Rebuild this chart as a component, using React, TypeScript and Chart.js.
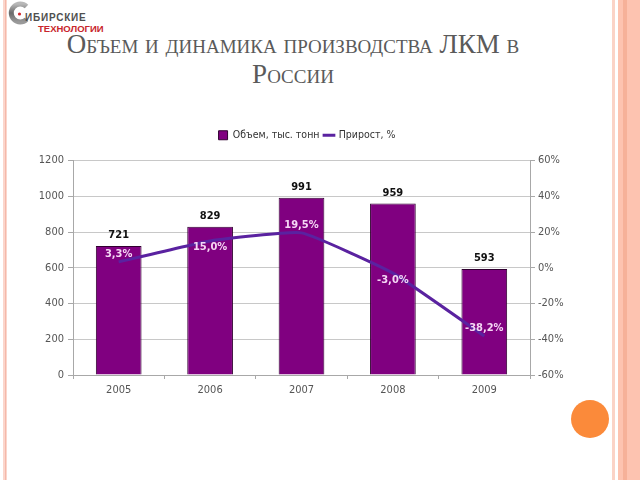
import React, { useEffect, useRef } from "react";
import { Chart, registerables } from "chart.js";

Chart.register(...registerables);

const years = ["2005", "2006", "2007", "2008", "2009"];
const volume = [721, 829, 991, 959, 593];
const growth = [3.3, 15.0, 19.5, -3.0, -38.2];
const volumeLabel = "Объем, тыс. тонн";
const growthLabel = "Прирост, %";
const titleLine1 = "Объем и динамика производства ЛКМ в";
const titleLine2 = "России";

const NARROW = '"Liberation Sans Narrow", "Arial Narrow", "DejaVu Sans Condensed", "Liberation Sans", sans-serif';
const BAR_COLOR = "#800080";
const LINE_COLOR = "#5a22a0";
const GRID = "#c8c8c8";
const AXIS = "#a8a8a8";
const TICK_TEXT = "#555555";

const growthShift = [-8, 6, -8, 7, -8];

const labelsPlugin = {
  id: "valueLabels",
  afterInit(chart: any) {
    const legend = chart.legend;
    if (legend && !legend.__patched) {
      const fit = legend.fit;
      legend.fit = function () {
        fit.call(this);
        this.height += 10;
      };
      legend.__patched = true;
    }
  },
  afterDatasetsDraw(chart: any) {
    const ctx = chart.ctx;
    ctx.save();
    const barMeta = chart.getDatasetMeta(0);
    ctx.font = `bold 11px ${NARROW}`;
    ctx.fillStyle = "#111111";
    ctx.textAlign = "center";
    ctx.textBaseline = "bottom";
    barMeta.data.forEach((el: any, i: number) => {
      ctx.fillText(String(volume[i]), el.x, el.y - 5);
    });
    const lineMeta = chart.getDatasetMeta(1);
    ctx.fillStyle = "#f4d6f4";
    ctx.textBaseline = "middle";
    lineMeta.data.forEach((el: any, i: number) => {
      const txt = growth[i].toFixed(1).replace(".", ",") + "%";
      ctx.fillText(txt, el.x, el.y + growthShift[i]);
    });
    ctx.restore();
  },
};

function ChartBox() {
  const ref = useRef<HTMLCanvasElement | null>(null);
  useEffect(() => {
    if (!ref.current) return;
    const chart = new Chart(ref.current, {
      type: "bar",
      data: {
        labels: years,
        datasets: [
          {
            type: "bar",
            label: volumeLabel,
            data: volume,
            backgroundColor: BAR_COLOR,
            borderColor: "#300030",
            borderWidth: 1,
            categoryPercentage: 1,
            barPercentage: 0.5,
            yAxisID: "y",
            order: 2,
            pointStyle: "rect",
          } as any,
          {
            type: "line",
            label: growthLabel,
            data: growth,
            borderColor: LINE_COLOR,
            backgroundColor: LINE_COLOR,
            borderWidth: 3,
            pointRadius: 0,
            tension: 0.12,
            yAxisID: "y1",
            order: 1,
            pointStyle: "line",
          } as any,
        ],
      },
      options: {
        animation: false,
        responsive: false,
        maintainAspectRatio: false,
        layout: { padding: { top: 7, left: 0, right: 0, bottom: 0 } },
        plugins: {
          tooltip: { enabled: false },
          legend: {
            position: "top",
            labels: {
              usePointStyle: true,
              boxWidth: 9,
              boxHeight: 9,
              padding: 5,
              color: "#333333",
              font: { family: NARROW, size: 10.5 },
              sort: (a: any, b: any) => a.datasetIndex - b.datasetIndex,
            },
          },
        },
        scales: {
          x: {
            offset: true,
            grid: {
              offset: true,
              drawOnChartArea: false,
              drawTicks: true,
              tickLength: 4,
              color: AXIS,
            },
            border: { color: AXIS },
            ticks: { color: TICK_TEXT, font: { family: NARROW, size: 11 }, padding: 5 },
            afterFit: (s: any) => {
              s.height = 33;
            },
          },
          y: {
            position: "left",
            min: 0,
            max: 1200,
            ticks: {
              stepSize: 200,
              color: TICK_TEXT,
              font: { family: NARROW, size: 11 },
              padding: 4,
              callback: (v: any) => String(v),
            },
            grid: { color: GRID, tickLength: 5, tickColor: AXIS },
            border: { color: AXIS },
            afterFit: (s: any) => {
              s.width = 43;
            },
          },
          y1: {
            position: "right",
            min: -60,
            max: 60,
            ticks: {
              stepSize: 20,
              color: TICK_TEXT,
              font: { family: NARROW, size: 11 },
              padding: 3,
              callback: (v: any) => `${v}%`,
            },
            grid: { drawOnChartArea: false, tickLength: 5, color: AXIS },
            border: { color: AXIS },
            afterFit: (s: any) => {
              s.width = 54;
            },
          },
        },
      } as any,
      plugins: [labelsPlugin],
    });
    return () => chart.destroy();
  }, []);
  return (
    <canvas
      ref={ref}
      width={554}
      height={290}
      style={{ position: "absolute", left: 30, top: 118, width: 554, height: 290 }}
    />
  );
}

export default function App() {
  return (
    <div
      style={{
        position: "fixed",
        left: 0,
        top: 0,
        width: 640,
        height: 480,
        background: "#ffffff",
        overflow: "hidden",
      }}
    >
      {/* slide frame decorations */}
      <div style={{ position: "absolute", left: 3, top: 0, width: 4, height: 480, background: "#fbd6cc" }} />
      <div style={{ position: "absolute", left: 4.5, top: 0, width: 1.2, height: 480, background: "#f4b8aa" }} />
      <div style={{ position: "absolute", left: 612, top: 0, width: 3, height: 480, background: "#fbd3c6" }} />
      <div style={{ position: "absolute", left: 618, top: 0, width: 22, height: 480, background: "#fdc3b0" }} />
      <div style={{ position: "absolute", left: 623, top: 0, width: 4, height: 480, background: "#f6b199" }} />
      <div
        style={{
          position: "absolute",
          left: 571,
          top: 400,
          width: 38,
          height: 38,
          borderRadius: "50%",
          background: "#fb8a3a",
        }}
      />
      {/* logo */}
      <svg
        width={34}
        height={30}
        style={{ position: "absolute", left: 4, top: 0 }}
      >
        <defs>
          <linearGradient id="lg" x1="0" y1="0" x2="0" y2="1">
            <stop offset="0" stopColor="#b8b8b8" />
            <stop offset="0.5" stopColor="#6a6a6a" />
            <stop offset="1" stopColor="#9a9a9a" />
          </linearGradient>
        </defs>
        <path
          d="M 22.5 6.5 A 9 9 0 1 0 22.5 19.5"
          fill="none"
          stroke="url(#lg)"
          strokeWidth={5}
        />
        <circle cx={15.5} cy={14} r={1.6} fill="#d0282e" />
      </svg>
      <span
        style={{
          position: "absolute",
          left: 25,
          top: 12.7,
          fontFamily: '"Liberation Sans", Arial, sans-serif',
          fontWeight: "bold",
          fontSize: 10,
          lineHeight: "10px",
          letterSpacing: 0.8,
          color: "#4f4f4f",
          whiteSpace: "nowrap",
        }}
      >
        ИБИРСКИЕ
      </span>
      <span
        style={{
          position: "absolute",
          left: 38,
          top: 24.1,
          fontFamily: '"Liberation Sans", Arial, sans-serif',
          fontWeight: "bold",
          fontSize: 9.5,
          lineHeight: "9.5px",
          color: "#c8262c",
          whiteSpace: "nowrap",
        }}
      >
        ТЕХНОЛОГИИ
      </span>
      {/* title */}
      <div
        style={{
          position: "absolute",
          left: 0,
          top: 29,
          width: 586,
          textAlign: "center",
          fontFamily: '"Liberation Serif", "DejaVu Serif", serif',
          fontVariant: "small-caps",
          fontSize: 27,
          lineHeight: "30px",
          color: "#5a5a5a",
        }}
      >
        {titleLine1}
        <br />
        {titleLine2}
      </div>
      <ChartBox />
    </div>
  );
}
